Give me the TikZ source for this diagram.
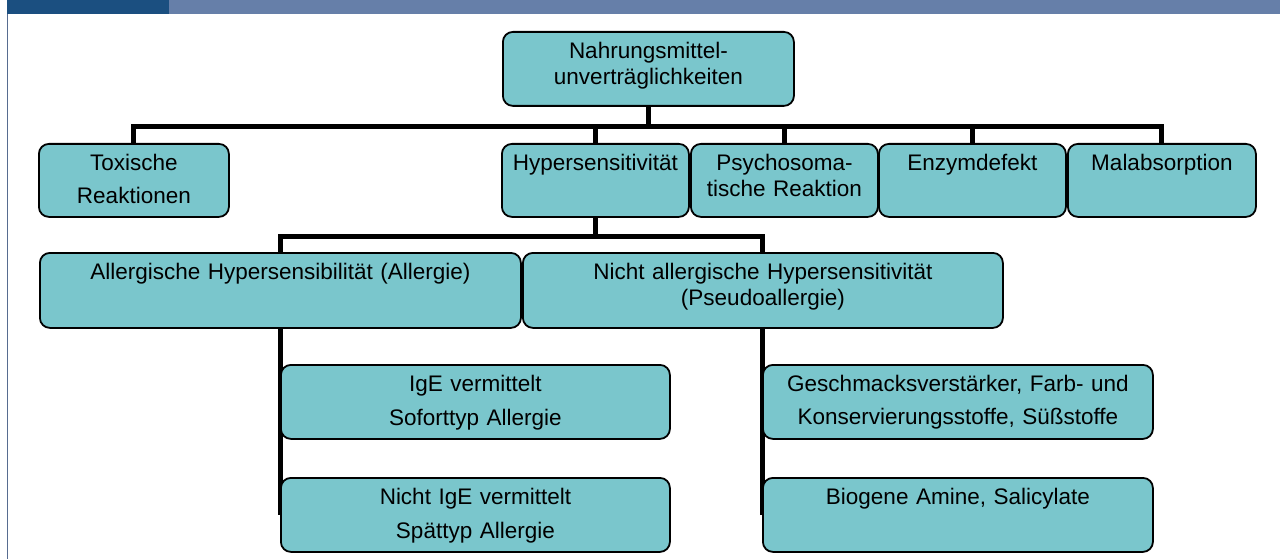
\documentclass[tikz,border=0pt]{standalone}
\usepackage{fontspec}
\setmainfont{Liberation Sans}
\usetikzlibrary{backgrounds}
\definecolor{boxfill}{HTML}{7AC6CC}
\definecolor{bardark}{HTML}{1B4F80}
\definecolor{barlight}{HTML}{667FA9}

\begin{document}
\begin{tikzpicture}[x=1pt, y=-1pt,
    box/.style={draw=black, line width=1.8pt, rounded corners=10pt, fill=boxfill,
        anchor=north west, inner sep=0pt, align=center, text height=27pt,
        font=\fontsize{22.5}{26}\selectfont},
    conn/.style={draw=black, line width=5pt}]
        \useasboundingbox (0,0) rectangle (1280,559);

        % Header bar
        \fill[bardark] (7,0) rectangle (169,14);
        \fill[barlight] (169,0) rectangle (1280,14);
        \draw[barlight!85!black, line width=1.6pt] (7.5,14) -- (7.5,559);

        % Draw nodes
        \node[box, text width=291pt, text depth=47pt] (root) at (502,31) {Nahrungsmittel-\\unverträglichkeiten};

        \node[box, text width=190pt, text depth=46pt] (tox) at (38,143) {Toxische\\[7pt]Reaktionen};
        \node[box, text width=187pt, text depth=46pt] (hyp) at (501,143) {Hypersensitivität};
        \node[box, text width=187pt, text depth=46pt] (psy) at (690,143) {Psychosoma-\\tische Reaktion};
        \node[box, text width=187pt, text depth=46pt] (enz) at (878,143) {Enzymdefekt};
        \node[box, text width=188pt, text depth=46pt] (mal) at (1067,143) {Malabsorption};

        \node[box, text width=481pt, text depth=48pt] (allerg) at (39,252) {Allergische Hypersensibilität (Allergie)};
        \node[box, text width=480pt, text depth=48pt] (nallerg) at (522,252) {Nicht allergische Hypersensitivität\\(Pseudoallergie)};

        \node[box, text width=389pt, text depth=47pt] (ige) at (280,364) {IgE vermittelt\\[8pt]Soforttyp Allergie};
        \node[box, text width=389pt, text depth=47pt] (nige) at (280,477) {Nicht IgE vermittelt\\[8pt]Spättyp Allergie};
        \node[box, text width=390pt, text depth=47pt] (gesch) at (762,364) {Geschmacksverstärker, Farb- und\\[7pt]Konservierungsstoffe, Süßstoffe};
        \node[box, text width=390pt, text depth=47pt] (bio) at (762,477) {Biogene Amine, Salicylate};

        % Draw connections
        \begin{scope}[on background layer]
            \foreach \n in {tox,hyp,psy,enz,mal}
                \draw[conn] (root.south) -- ++(0,19.5) -| (\n.north);
            \foreach \n in {allerg,nallerg}
                \draw[conn] (hyp.south) -- ++(0,19) -| (\n.north);
            \foreach \n in {ige,nige}
                \draw[conn] (allerg.south) -- (allerg.south |- \n.west);
            \foreach \n in {gesch,bio}
                \draw[conn] (nallerg.south) -- (nallerg.south |- \n.west);
        \end{scope}
    \end{tikzpicture}
\end{document}
